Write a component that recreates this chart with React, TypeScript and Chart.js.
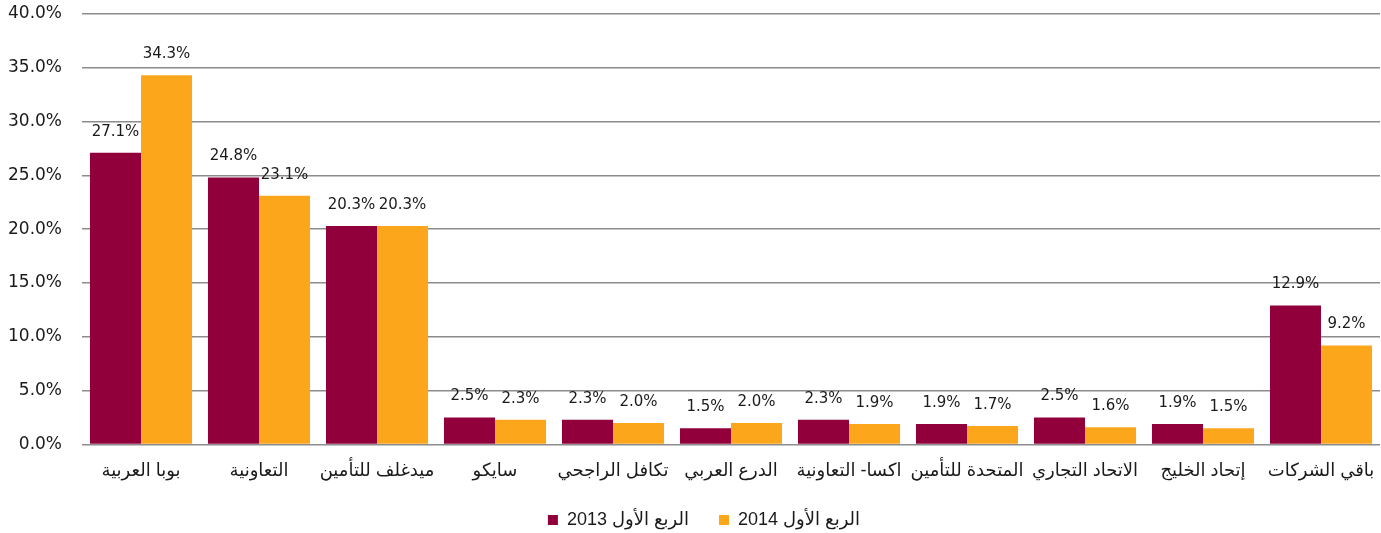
import React, { useEffect, useRef } from "react";
import { Chart, registerables } from "chart.js";

Chart.register(...registerables);

const categories = [
  "بوبا العربية",
  "التعاونية",
  "ميدغلف للتأمين",
  "سايكو",
  "تكافل الراجحي",
  "الدرع العربي",
  "اكسا- التعاونية",
  "المتحدة للتأمين",
  "الاتحاد التجاري",
  "إتحاد الخليج",
  "باقي الشركات",
];

const series2013 = [27.1, 24.8, 20.3, 2.5, 2.3, 1.5, 2.3, 1.9, 2.5, 1.9, 12.9];
const series2014 = [34.3, 23.1, 20.3, 2.3, 2.0, 2.0, 1.9, 1.7, 1.6, 1.5, 9.2];

const label2013 = "الربع الأول 2013";
const label2014 = "الربع الأول 2014";

const yTicks = [0, 5, 10, 15, 20, 25, 30, 35, 40];

const color2013 = "#91003A";
const color2014 = "#FCA61C";

const dataLabelPlugin = {
  id: "dataLabels",
  afterLayout(chart: any) {
    const lg = chart.legend;
    if (lg) {
      lg.left += 11;
      lg.right += 11;
    }
  },
  afterDatasetsDraw(chart: any) {
    const ctx = chart.ctx;
    ctx.save();
    ctx.font = "15px 'DejaVu Sans'";
    ctx.fillStyle = "#1a1a1a";
    ctx.textAlign = "center";
    ctx.textBaseline = "middle";
    chart.data.datasets.forEach((ds: any, di: number) => {
      const meta = chart.getDatasetMeta(di);
      meta.data.forEach((el: any, i: number) => {
        const v = ds.data[i];
        ctx.fillText(v.toFixed(1) + "%", el.x, el.y - 21);
      });
    });
    ctx.restore();
  },
};

export default function App() {
  const ref = useRef<HTMLCanvasElement | null>(null);
  useEffect(() => {
    if (!ref.current) return;
    const chart = new Chart(ref.current, {
      type: "bar",
      data: {
        labels: categories,
        datasets: [
          {
            label: label2013,
            data: series2013,
            backgroundColor: color2013,
            borderWidth: 0,
            categoryPercentage: 0.865,
            barPercentage: 1.0,
          },
          {
            label: label2014,
            data: series2014,
            backgroundColor: color2014,
            borderWidth: 0,
            categoryPercentage: 0.865,
            barPercentage: 1.0,
          },
        ],
      },
      options: {
        animation: false,
        responsive: false,
        maintainAspectRatio: false,
        layout: { padding: { top: 0, right: 1, left: 6, bottom: -6 } },
        plugins: {
          legend: {
            position: "bottom",
            labels: {
              font: { family: "'Liberation Sans', 'DejaVu Sans'", size: 18 },
              color: "#1a1a1a",
              boxWidth: 10,
              boxHeight: 10,
              padding: 10,
              generateLabels: (c: any) => {
                const items = Chart.defaults.plugins.legend.labels.generateLabels(c);
                if (items.length > 0) items[0].text = items[0].text + "    ";
                return items;
              },
            },
          },
          tooltip: { enabled: false },
        },
        scales: {
          x: {
            grid: { display: false, drawTicks: false },
            border: { display: false },
            afterFit: (s: any) => {
              s.height += 3;
              s.paddingLeft = 0;
              s.paddingRight = 0;
            },
            ticks: {
              font: { family: "'Liberation Sans', 'DejaVu Sans'", size: 18 },
              color: "#1a1a1a",
              padding: 16,
              maxRotation: 0,
              autoSkip: false,
            },
          },
          y: {
            min: 0,
            max: 40,
            afterBuildTicks: (axis: any) => {
              axis.ticks = yTicks.map((v) => ({ value: v }));
            },
            afterFit: (s: any) => {
              s.width = 76;
              s.paddingTop = 14;
              s.paddingBottom = 0;
            },
            grid: { color: "#8c8c8c", lineWidth: 1.5, drawTicks: false },
            border: { display: false },
            ticks: {
              font: { family: "'DejaVu Sans'", size: 17 },
              color: "#1a1a1a",
              padding: 20,
              callback: (v: any) => Number(v).toFixed(1) + "%",
            },
          },
        },
      },
      plugins: [dataLabelPlugin],
    });
    return () => chart.destroy();
  }, []);
  return (
    <div style={{ position: "fixed", left: 0, top: 0, width: 1381, height: 533, background: "#fff" }}>
      <canvas ref={ref} width={1381} height={533} />
    </div>
  );
}
